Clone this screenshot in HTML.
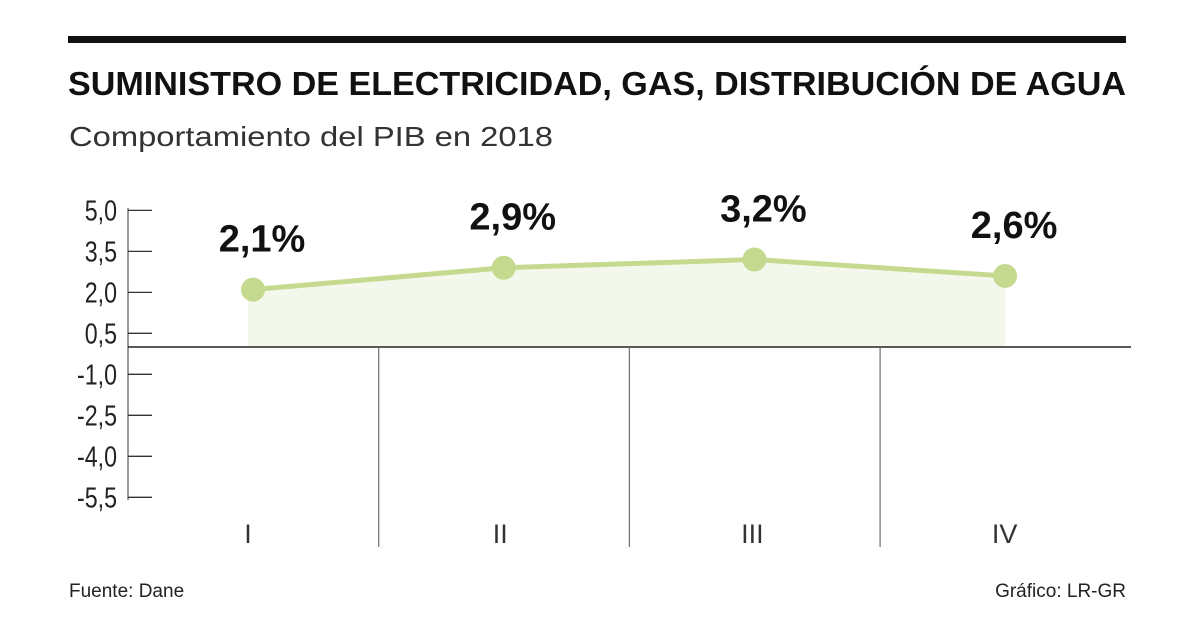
<!DOCTYPE html>
<html><head><meta charset="utf-8"><style>
body{margin:0;background:#fff;width:1200px;height:632px;overflow:hidden;font-family:"Liberation Sans",sans-serif}
</style></head><body>
<svg width="1200" height="632" id="c">
<rect x="68" y="36" width="1058" height="7" fill="#111"/>
<text x="68" y="95" font-size="33" font-weight="bold" fill="#111" textLength="1058" lengthAdjust="spacingAndGlyphs">SUMINISTRO DE ELECTRICIDAD, GAS, DISTRIBUCIÓN DE AGUA</text>
<text x="69" y="146" font-size="28" fill="#333" textLength="484" lengthAdjust="spacingAndGlyphs">Comportamiento del PIB en 2018</text>
<g id="plot"></g>
<text x="69" y="597" font-size="19" fill="#222">Fuente: Dane</text>
<text x="1126" y="597" font-size="19" fill="#222" text-anchor="end">Gráfico: LR-GR</text>
</svg>
<script>
const categories=["I","II","III","IV"];
const values=[2.1,2.9,3.2,2.6];
const labels=["2,1%","2,9%","3,2%","2,6%"];
const ticks=[5.0,3.5,2.0,0.5,-1.0,-2.5,-4.0,-5.5];
const tickLabels=["5,0","3,5","2,0","0,5","-1,0","-2,5","-4,0","-5,5"];
const NS="http://www.w3.org/2000/svg";
const g=document.getElementById('plot');
const y=v=>347-v*27.33;
const x=i=>253+i*250.7;
function mk(t,a){const e=document.createElementNS(NS,t);for(const k in a)e.setAttribute(k,a[k]);g.appendChild(e);return e;}
let d="M"+(x(0)-5)+","+y(0)+" L"+(x(0)-5)+","+y(values[0]);
values.forEach((v,i)=>d+=" L"+x(i)+","+y(v));
d+=" L"+x(values.length-1)+","+y(0)+" Z";
let a=mk('path',{d:d,fill:'#f4f8ec'});


let va=mk('line',{x1:128,x2:128,y1:208,y2:500,stroke:'#777','stroke-width':1.5});


ticks.forEach((t,i)=>{
 let l=mk('line',{x1:128,x2:152,y1:y(t),y2:y(t),stroke:'#333','stroke-width':1.3});
 
 
 let tx=mk('text',{x:0,y:0,'font-size':29,'text-anchor':'end',fill:'#222',transform:'translate(117,'+(y(t)+10)+') scale(0.8,1)'});
 
 
 tx.textContent=tickLabels[i];
});
let za=mk('line',{x1:128,x2:1131,y1:y(0),y2:y(0),stroke:'#222','stroke-width':1.5});


categories.forEach((c,i)=>{
 if(i>0){let s=mk('line',{x1:x(i)-125,x2:x(i)-125,y1:y(0),y2:547,stroke:'#777','stroke-width':1.3});
 
 }
 let t=mk('text',{x:x(i)-5+i*1.5,y:543,'font-size':27,'text-anchor':'middle',fill:'#333'});
 
 
 t.textContent=c;
});
let pts=values.map((v,i)=>x(i)+","+y(v)).join(" ");
let pl=mk('polyline',{points:pts,fill:'none',stroke:'#c5da8e','stroke-width':5});


values.forEach((v,i)=>{
 let c=mk('circle',{cx:x(i),cy:y(v),r:12,fill:'#c5da8e'});
 
 
 let t=mk('text',{x:x(i)+9,y:y(v)-38,'font-size':38,'font-weight':'bold','text-anchor':'middle',fill:'#111'});
 
 
 t.textContent=labels[i];
});
</script>
</body></html>
